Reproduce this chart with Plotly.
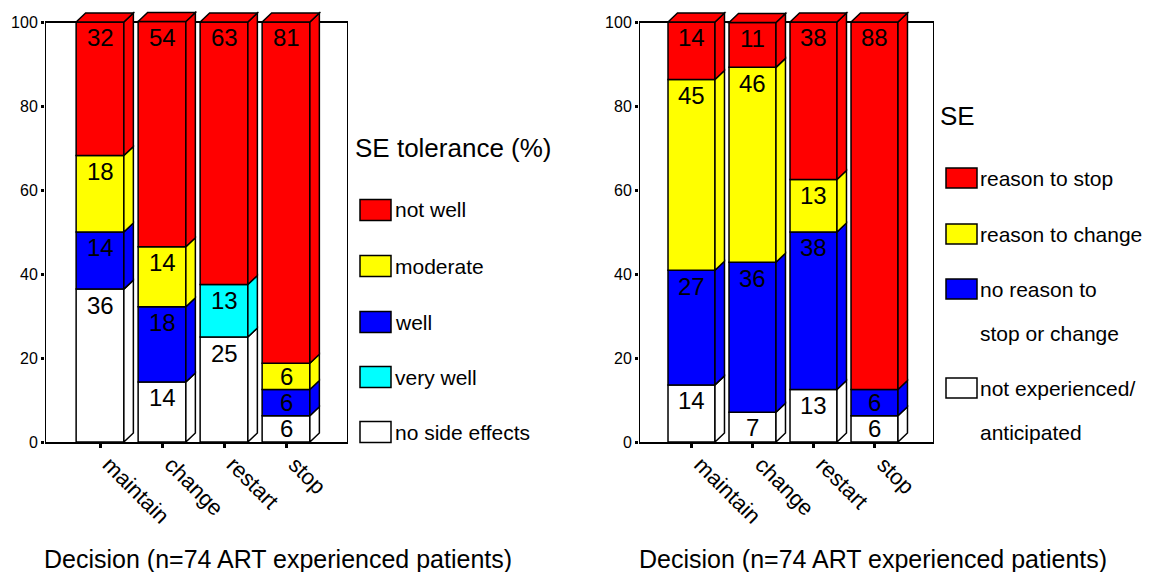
import plotly.graph_objects as go

W, H = 1152, 572
FONT = "Liberation Sans, Arial, sans-serif"

categories = ["maintain", "change", "restart", "stop"]

# Panel 1: SE tolerance (%), stacked from bottom to top
tol_names = ["no side effects", "very well", "well", "moderate", "not well"]
tol_colors = ["#FFFFFF", "#00FFFF", "#0000FF", "#FFFF00", "#FF0000"]
tol_no_side_effects = [36.4, 14.3, 25.0, 6.25]
tol_very_well = [0, 0, 12.5, 0]
tol_well = [13.6, 17.9, 0, 6.25]
tol_moderate = [18.2, 14.3, 0, 6.25]
tol_not_well = [31.8, 53.6, 62.5, 81.25]

# Panel 2: SE, stacked from bottom to top
se_names = ["not experienced/ anticipated", "no reason to stop or change",
            "reason to change", "reason to stop"]
se_colors = ["#FFFFFF", "#0000FF", "#FFFF00", "#FF0000"]
se_not_experienced = [13.6, 7.1, 12.5, 6.25]
se_no_reason = [27.3, 35.7, 37.5, 6.25]
se_reason_change = [45.4, 46.4, 12.5, 0]
se_reason_stop = [13.7, 10.7, 37.5, 87.5]

y_ticks = [0, 20, 40, 60, 80, 100]
x_title = "Decision (n=74 ART experienced patients)"

# ---------------- layout geometry (pixels) ----------------
Y0_PX, YTOP_PX, YMAX = 442.0, 5.2, 104.0
PX_PER_Y = (Y0_PX - YTOP_PX) / YMAX
DEPTH_X_PX, DEPTH_Y_PX = 9.5, 9.0
BAR_W = 0.77


def pxx(p):
    return p / W


def pxy(p):
    return 1 - p / H


panels = [
    dict(xa="x", ya="y", xname="xaxis", yname="yaxis",
         left=45, right=348, cat0=100, step=62,
         series=list(zip(tol_names,
                         [tol_no_side_effects, tol_very_well, tol_well, tol_moderate, tol_not_well],
                         tol_colors))),
    dict(xa="x2", ya="y2", xname="xaxis2", yname="yaxis2",
         left=639, right=934, cat0=691.5, step=61,
         series=list(zip(se_names,
                         [se_not_experienced, se_no_reason, se_reason_change, se_reason_stop],
                         se_colors))),
]

fig = go.Figure()
shapes = []
annotations = []
xpos = list(range(len(categories)))

for p in panels:
    xmin = (p["left"] - p["cat0"]) / p["step"]
    xmax = (p["right"] - p["cat0"]) / p["step"]
    dx = DEPTH_X_PX / p["step"]
    dy = DEPTH_Y_PX / PX_PER_Y
    # frame (left axis, top, right)
    shapes.append(dict(type="path", xref=p["xa"], yref=p["ya"], layer="below",
                       path=f"M{xmin},0 L{xmin},100 L{xmax},100 L{xmax},0",
                       line=dict(color="black", width=2)))
    cum = [0.0] * len(categories)
    for name, vals, col in p["series"]:
        base = cum[:]
        fig.add_trace(go.Bar(
            x=xpos, y=[v if v > 0 else None for v in vals], base=base, width=BAR_W,
            marker=dict(color=col, line=dict(color="black", width=1.5)),
            xaxis=p["xa"], yaxis=p["ya"], name=name, showlegend=False, hoverinfo="skip"))
        for i, v in enumerate(vals):
            if v <= 0:
                continue
            b, t = base[i], base[i] + v
            xr = i + BAR_W / 2
            shapes.append(dict(
                type="path", xref=p["xa"], yref=p["ya"], layer="above",
                path=f"M{xr},{b} L{xr + dx},{b + dy} L{xr + dx},{t + dy} L{xr},{t} Z",
                fillcolor=col, line=dict(color="black", width=1.5)))
            off = min(16 / PX_PER_Y, v / 2)
            annotations.append(dict(
                x=i, y=t - off, xref=p["xa"], yref=p["ya"], text=str(int(v + 0.5)),
                showarrow=False, xanchor="center", yanchor="middle",
                font=dict(family=FONT, size=24, color="black")))
        cum = [c + v for c, v in zip(cum, vals)]
    # top faces
    for i, top_val in enumerate(cum):
        top_col = None
        for name, vals, c in p["series"]:
            if vals[i] > 0:
                top_col = c
        xl, xr = i - BAR_W / 2, i + BAR_W / 2
        shapes.append(dict(
            type="path", xref=p["xa"], yref=p["ya"], layer="above",
            path=f"M{xl},{top_val} L{xl + dx},{top_val + dy} L{xr + dx},{top_val + dy} L{xr},{top_val} Z",
            fillcolor=top_col, line=dict(color="black", width=1.5)))

    fig.update_layout(**{
        p["xname"]: dict(
            domain=[pxx(p["left"]), pxx(p["right"])], range=[xmin, xmax],
            tickvals=xpos, ticktext=categories, tickangle=45,
            ticks="outside", ticklen=4, tickwidth=3, tickcolor="black",
            ticklabelshift=9, ticklabelstandoff=-5,
            showline=True, linewidth=2, linecolor="black",
            showgrid=False, zeroline=False, anchor=p["ya"], automargin=False,
            tickfont=dict(family=FONT, size=22, color="black")),
        p["yname"]: dict(
            domain=[pxy(Y0_PX), pxy(YTOP_PX)], range=[0, YMAX],
            tickvals=y_ticks, ticks="outside", ticklen=3, tickwidth=3, tickcolor="black",
            showline=False, showgrid=False, zeroline=False, anchor=p["xa"], automargin=False,
            tickfont=dict(family=FONT, size=16, color="black")),
    })


def legend_text(x, y, text, size):
    annotations.append(dict(x=pxx(x), y=pxy(y), xref="paper", yref="paper", text=text,
                            showarrow=False, xanchor="left", yanchor="middle",
                            font=dict(family=FONT, size=size, color="black")))


def swatch(x0, x1, yc, h, col):
    shapes.append(dict(type="rect", xref="paper", yref="paper",
                       x0=pxx(x0), x1=pxx(x1), y0=pxy(yc + h / 2), y1=pxy(yc - h / 2),
                       fillcolor=col, line=dict(color="black", width=1.5)))


# Legend 1
legend_text(353, 148, "SE tolerance (%)", 26)
leg1_rows = [210, 266, 322, 377, 432]
for row, name, col in zip(leg1_rows, tol_names[::-1], tol_colors[::-1]):
    swatch(360, 391, row, 21, col)
    legend_text(393, row, name, 21)

# Legend 2
legend_text(938, 116, "SE", 26)
leg2_rows = [178, 234, 289, 388]
leg2_lines = [["reason to stop"], ["reason to change"],
              ["no reason to", "stop or change"], ["not experienced/", "anticipated"]]
for row, lines, col in zip(leg2_rows, leg2_lines, se_colors[::-1]):
    swatch(946, 977, row, 20, col)
    for k, ln in enumerate(lines):
        legend_text(978, row + k * 44, ln, 21)

# axis titles
for cx in (278, 873):
    annotations.append(dict(x=pxx(cx), y=pxy(559), xref="paper", yref="paper", text=x_title,
                            showarrow=False, xanchor="center", yanchor="middle",
                            font=dict(family=FONT, size=25, color="black")))

fig.update_layout(
    width=W, height=H, autosize=False, barmode="overlay",
    margin=dict(l=0, r=0, t=0, b=0, pad=0, autoexpand=False),
    paper_bgcolor="white", plot_bgcolor="white",
    shapes=shapes, annotations=annotations, showlegend=False,
    font=dict(family=FONT, color="black"),
)

fig.write_html(
    "out.html",
    config={"displayModeBar": False, "staticPlot": True},
    post_script="document.body.style.margin='0';document.body.style.padding='0';"
                "document.body.style.overflow='hidden';",
)
